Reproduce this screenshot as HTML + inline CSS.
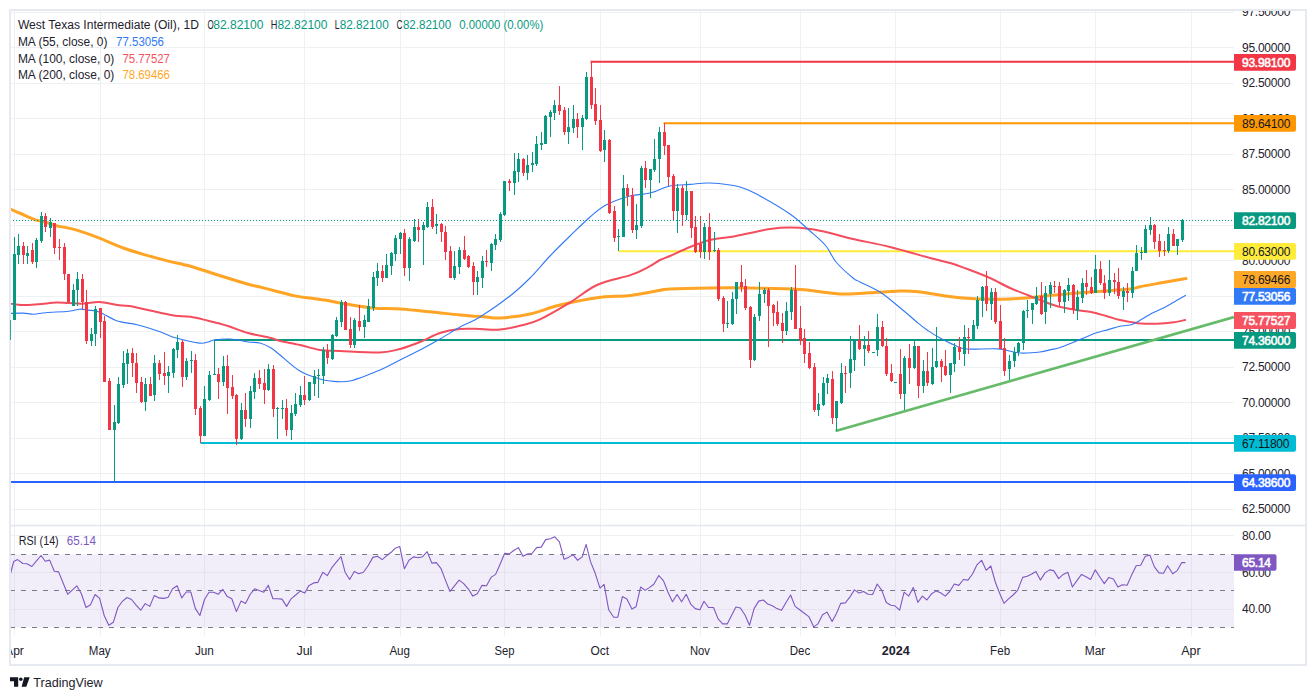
<!DOCTYPE html><html><head><meta charset="utf-8"><style>html,body{margin:0;padding:0;background:#fff;width:1316px;height:700px;overflow:hidden}svg{display:block}text{font-family:"Liberation Sans",sans-serif}</style></head><body>
<svg width="1316" height="700" viewBox="0 0 1316 700">
<defs><clipPath id="cm"><rect x="11" y="11" width="1223" height="514"/></clipPath><clipPath id="cr"><rect x="11" y="526" width="1223" height="110"/></clipPath></defs>
<rect width="1316" height="700" fill="#fff"/>
<path d="M11 12.5H1234 M11 47.5H1234 M11 83.5H1234 M11 118.5H1234 M11 154.5H1234 M11 189.5H1234 M11 225.5H1234 M11 260.5H1234 M11 296.5H1234 M11 331.5H1234 M11 367.5H1234 M11 402.5H1234 M11 438.5H1234 M11 473.5H1234 M11 509.5H1234 M11 535.5H1234 M11 572.5H1234 M11 609.5H1234 M14.5 11V636 M100.5 11V636 M204.5 11V636 M304.5 11V636 M400.5 11V636 M504.5 11V636 M600.5 11V636 M700.5 11V636 M800.5 11V636 M895.5 11V636 M1000.5 11V636 M1095.5 11V636 M1191.5 11V636" stroke="#EEF0F1" stroke-width="1" fill="none"/>
<rect x="11" y="554.5" width="1223" height="73" fill="#F2EEF9"/>
<path d="M11 572.5H1234M11 609.5H1234" stroke="#E6E2EF" stroke-width="1"/>
<path d="M14.5 554.5V627.5" stroke="#E6E2EF" stroke-width="1"/>
<path d="M100.5 554.5V627.5" stroke="#E6E2EF" stroke-width="1"/>
<path d="M204.5 554.5V627.5" stroke="#E6E2EF" stroke-width="1"/>
<path d="M304.5 554.5V627.5" stroke="#E6E2EF" stroke-width="1"/>
<path d="M400.5 554.5V627.5" stroke="#E6E2EF" stroke-width="1"/>
<path d="M504.5 554.5V627.5" stroke="#E6E2EF" stroke-width="1"/>
<path d="M600.5 554.5V627.5" stroke="#E6E2EF" stroke-width="1"/>
<path d="M700.5 554.5V627.5" stroke="#E6E2EF" stroke-width="1"/>
<path d="M800.5 554.5V627.5" stroke="#E6E2EF" stroke-width="1"/>
<path d="M895.5 554.5V627.5" stroke="#E6E2EF" stroke-width="1"/>
<path d="M1000.5 554.5V627.5" stroke="#E6E2EF" stroke-width="1"/>
<path d="M1095.5 554.5V627.5" stroke="#E6E2EF" stroke-width="1"/>
<path d="M1191.5 554.5V627.5" stroke="#E6E2EF" stroke-width="1"/>
<path d="M10 554.5H1234M10 590.5H1234M10 627.5H1234" stroke="#787B86" stroke-width="1" stroke-dasharray="5 6" fill="none"/>
<g clip-path="url(#cm)">
<path d="M590.5 61.7H1234" stroke="#F23645" stroke-width="2" fill="none"/>
<path d="M663.5 123.2H1234" stroke="#FF9800" stroke-width="2" fill="none"/>
<path d="M618.5 251.2H1234" stroke="#FFEB3B" stroke-width="2" fill="none"/>
<path d="M214.5 340.0H1234" stroke="#089981" stroke-width="2" fill="none"/>
<path d="M200.5 443.0H1234" stroke="#00BCD4" stroke-width="2" fill="none"/>
<path d="M10 482.1H1234" stroke="#2962FF" stroke-width="2" fill="none"/>
<path d="M835.6 431L1234 317" stroke="#66BB6A" stroke-width="2.7" fill="none"/>
<path d="M10.3 209.0C11.8 209.7 15.2 211.2 19.4 213.0C23.6 214.8 31.0 218.4 35.4 219.9C39.8 221.4 42.3 221.2 45.7 222.1C49.1 223.0 50.9 224.3 56.0 225.6C61.1 226.9 69.4 228.0 76.6 230.1C83.8 232.2 91.4 235.0 99.4 238.1C107.4 241.2 117.2 245.8 124.7 248.5C132.2 251.2 136.9 252.5 144.2 254.6C151.5 256.7 160.8 259.2 168.5 261.1C176.2 263.0 182.7 264.1 190.4 266.2C198.1 268.3 205.4 271.1 214.7 274.0C224.0 276.9 238.2 281.4 246.3 283.7C254.4 286.0 255.2 285.9 263.3 287.9C271.4 289.9 286.8 294.2 294.9 295.9C303.0 297.6 306.5 297.5 312.0 298.3C317.5 299.1 323.3 299.7 328.0 300.5C332.7 301.3 332.7 301.8 340.0 303.0C347.3 304.2 362.0 307.0 372.0 308.0C382.0 309.0 390.0 308.3 400.0 309.0C410.0 309.7 422.0 311.0 432.0 312.0C442.0 313.0 451.0 314.2 460.0 315.0C469.0 315.8 479.3 316.5 486.0 317.0C492.7 317.5 492.7 318.5 500.0 318.0C507.3 317.5 520.0 316.2 530.0 314.0C540.0 311.8 548.8 307.7 560.0 305.0C571.2 302.3 585.2 299.3 597.0 297.7C608.8 296.1 620.5 296.6 631.0 295.4C641.5 294.2 653.5 291.4 660.0 290.3C666.5 289.2 661.7 289.4 670.0 289.0C678.3 288.6 696.7 288.2 710.0 288.0C723.3 287.8 735.0 287.8 750.0 288.0C765.0 288.2 786.7 288.6 800.0 289.4C813.3 290.2 821.7 292.2 830.0 293.0C838.3 293.8 838.3 294.3 850.0 294.0C861.7 293.7 888.3 291.3 900.0 291.0C911.7 290.7 909.5 290.8 920.0 292.0C930.5 293.2 948.0 296.8 963.0 298.0C978.0 299.2 995.5 299.4 1010.0 299.0C1024.5 298.6 1036.7 296.8 1050.0 295.6C1063.3 294.4 1076.7 293.1 1090.0 292.0C1103.3 290.9 1121.7 289.9 1130.0 289.0C1138.3 288.1 1134.5 287.8 1140.0 286.7C1145.5 285.6 1155.3 283.9 1163.0 282.5C1170.7 281.1 1182.2 279.2 1186.0 278.6" stroke="#FFA424" stroke-width="3" fill="none" stroke-linejoin="round" stroke-linecap="round"/>
<path d="M10.3 303.6C12.5 303.9 18.5 305.0 23.2 305.1C27.9 305.2 32.8 304.7 38.4 304.3C44.0 303.9 51.5 302.7 56.6 302.5C61.7 302.3 64.2 302.9 68.8 303.1C73.4 303.3 78.9 303.8 84.0 303.6C89.1 303.4 93.6 301.8 99.2 302.0C104.8 302.2 112.3 304.4 117.4 305.1C122.5 305.8 122.5 304.8 129.6 306.1C136.7 307.4 152.4 311.1 160.0 312.7C167.6 314.3 170.1 315.0 175.2 315.7C180.3 316.4 184.9 316.0 190.4 316.8C195.9 317.6 201.7 319.2 208.0 320.7C214.3 322.2 221.3 323.9 228.0 326.0C234.7 328.1 240.8 331.0 248.0 333.0C255.2 335.0 265.7 336.7 271.0 338.0C276.3 339.3 275.2 339.8 280.0 341.0C284.8 342.2 293.3 343.5 300.0 345.0C306.7 346.5 313.3 349.0 320.0 350.0C326.7 351.0 330.0 350.6 340.0 351.0C350.0 351.4 370.0 352.7 380.0 352.4C390.0 352.1 393.3 350.7 400.0 349.0C406.7 347.3 413.3 344.7 420.0 342.0C426.7 339.3 433.3 335.2 440.0 333.0C446.7 330.8 453.3 329.7 460.0 329.0C466.7 328.3 473.3 328.9 480.0 329.0C486.7 329.1 492.8 330.3 500.0 329.6C507.2 328.9 516.3 326.7 523.0 325.0C529.7 323.3 532.4 323.0 540.0 319.4C547.6 315.8 559.1 309.1 568.6 303.4C578.1 297.7 586.6 289.8 597.0 285.0C607.4 280.2 622.4 277.9 631.0 274.9C639.6 271.9 643.8 269.4 648.6 266.9C653.4 264.4 656.4 261.8 660.0 260.0C663.6 258.2 665.0 258.2 670.0 256.0C675.0 253.8 683.3 249.7 690.0 247.0C696.7 244.3 703.3 241.7 710.0 240.0C716.7 238.3 723.3 238.2 730.0 237.0C736.7 235.8 743.3 234.3 750.0 233.0C756.7 231.7 763.3 229.9 770.0 229.0C776.7 228.1 783.3 227.6 790.0 227.6C796.7 227.6 803.3 228.1 810.0 229.0C816.7 229.9 822.8 231.3 830.0 233.0C837.2 234.7 843.0 236.7 853.0 239.0C863.0 241.3 877.2 243.8 890.0 247.0C902.8 250.2 920.0 255.3 930.0 258.0C940.0 260.7 943.3 261.0 950.0 263.0C956.7 265.0 963.3 267.5 970.0 270.0C976.7 272.5 983.3 275.0 990.0 278.0C996.7 281.0 1003.3 285.0 1010.0 288.0C1016.7 291.0 1023.8 293.5 1030.0 296.0C1036.2 298.5 1042.6 301.1 1047.3 302.8C1052.0 304.6 1053.3 305.3 1058.2 306.5C1063.1 307.7 1071.0 309.2 1076.5 310.1C1082.0 311.0 1086.0 310.9 1091.1 311.9C1096.2 312.9 1102.2 314.9 1106.9 316.2C1111.6 317.5 1114.8 318.8 1119.0 319.8C1123.2 320.8 1128.8 321.7 1132.4 322.3C1136.1 322.9 1136.0 323.3 1140.9 323.5C1145.8 323.7 1156.1 323.7 1161.6 323.5C1167.1 323.3 1169.7 322.9 1173.7 322.3C1177.8 321.7 1183.9 320.2 1185.9 319.8" stroke="#F44D5D" stroke-width="2" fill="none" stroke-linejoin="round"/>
<path d="M10.3 313.4C12.5 313.3 19.3 313.0 23.2 313.1C27.1 313.2 30.0 314.3 33.8 314.2C37.6 314.1 40.2 313.2 46.0 312.7C51.8 312.2 63.2 311.8 68.8 311.2C74.4 310.6 76.1 309.4 79.4 309.2C82.7 309.0 85.2 309.7 88.5 310.1C91.8 310.6 94.4 310.1 99.2 311.9C104.0 313.7 111.1 318.9 117.4 321.0C123.7 323.1 130.1 323.0 137.2 324.8C144.3 326.6 153.7 329.5 160.0 331.7C166.3 333.9 168.6 335.9 175.2 337.8C181.8 339.7 194.0 342.4 199.5 343.1C205.0 343.8 205.6 342.5 208.0 342.0C210.4 341.5 210.3 340.5 214.0 340.0C217.7 339.5 224.3 338.7 230.0 339.0C235.7 339.3 243.0 341.3 248.0 342.0C253.0 342.7 256.2 342.0 260.0 343.0C263.8 344.0 267.7 346.0 271.0 348.0C274.3 350.0 275.2 351.2 280.0 355.0C284.8 358.8 293.3 367.0 300.0 371.0C306.7 375.0 315.0 377.3 320.0 379.0C325.0 380.7 325.0 380.7 330.0 381.0C335.0 381.3 341.7 382.8 350.0 381.0C358.3 379.2 371.7 373.5 380.0 370.0C388.3 366.5 393.3 363.3 400.0 360.0C406.7 356.7 413.3 353.5 420.0 350.0C426.7 346.5 433.3 342.8 440.0 339.0C446.7 335.2 453.3 330.7 460.0 327.0C466.7 323.3 471.7 322.2 480.0 317.0C488.3 311.8 501.7 302.5 510.0 296.0C518.3 289.5 523.3 284.7 530.0 278.0C536.7 271.3 543.3 263.0 550.0 256.0C556.7 249.0 563.3 242.5 570.0 236.0C576.7 229.5 584.0 222.2 590.0 217.0C596.0 211.8 599.3 208.5 606.0 205.0C612.7 201.5 622.7 198.0 630.0 196.0C637.3 194.0 643.3 194.7 650.0 193.0C656.7 191.3 663.3 187.4 670.0 186.0C676.7 184.6 683.3 184.9 690.0 184.4C696.7 183.9 701.7 182.6 710.0 183.0C718.3 183.4 731.7 184.8 740.0 187.0C748.3 189.2 751.7 191.5 760.0 196.0C768.3 200.5 781.7 208.2 790.0 214.0C798.3 219.8 804.0 225.7 810.0 231.0C816.0 236.3 821.7 240.8 826.0 246.0C830.3 251.2 831.5 256.7 836.0 262.0C840.5 267.3 849.0 274.7 853.0 278.0C857.0 281.3 855.5 279.7 860.0 282.0C864.5 284.3 873.2 287.6 880.0 292.0C886.8 296.4 894.6 303.3 901.0 308.5C907.4 313.7 913.9 319.7 918.4 323.4C922.9 327.1 924.9 328.5 928.1 330.7C931.3 332.9 933.3 334.3 937.8 336.7C942.2 339.1 949.9 343.2 954.8 345.3C959.7 347.4 959.7 348.4 967.0 349.0C974.3 349.6 989.8 348.2 998.6 348.9C1007.4 349.6 1013.1 352.5 1020.0 353.0C1026.9 353.5 1034.8 352.6 1040.0 352.0C1045.2 351.4 1047.7 350.3 1050.9 349.6C1054.2 348.9 1055.2 349.2 1059.5 347.8C1063.8 346.4 1072.0 342.9 1076.5 341.1C1081.0 339.3 1082.8 338.3 1086.2 336.9C1089.6 335.5 1093.4 333.8 1097.1 332.6C1100.8 331.4 1104.4 330.6 1108.1 329.6C1111.8 328.6 1115.2 327.3 1119.0 326.5C1122.8 325.7 1127.5 325.8 1131.2 324.7C1134.9 323.6 1137.5 321.7 1140.9 319.8C1144.4 317.9 1148.1 315.2 1151.9 313.2C1155.8 311.2 1160.4 309.5 1164.0 307.7C1167.6 305.9 1170.0 304.3 1173.7 302.2C1177.4 300.1 1183.9 296.4 1185.9 295.3" stroke="#3179F5" stroke-width="1.1" fill="none" stroke-linejoin="round"/>
<path d="M9 320h1v20h-1zM8 322h3v13h-3zM14 237h1v83h-1zM13 254h3v66h-3zM18 234h1v30h-1zM17 246h3v9h-3zM27 246h1v18h-1zM26 253h3v3h-3zM36 238h1v30h-1zM35 240h3v22h-3zM41 212h1v31h-1zM40 216h3v25h-3zM50 218h1v19h-1zM49 222h3v6h-3zM73 284h1v22h-1zM72 290h3v16h-3zM77 272h1v34h-1zM76 279h3v11h-3zM91 328h1v18h-1zM90 334h3v7h-3zM95 306h1v40h-1zM94 309h3v25h-3zM114 405h1v77h-1zM113 422h3v8h-3zM118 377h1v47h-1zM117 384h3v39h-3zM123 351h1v37h-1zM122 363h3v22h-3zM127 349h1v35h-1zM126 353h3v11h-3zM145 378h1v33h-1zM144 384h3v18h-3zM154 355h1v46h-1zM153 363h3v32h-3zM168 366h1v27h-1zM167 372h3v4h-3zM173 348h1v30h-1zM172 349h3v24h-3zM177 335h1v23h-1zM176 342h3v8h-3zM186 358h1v22h-1zM185 361h3v16h-3zM191 351h1v22h-1zM190 360h3v1h-3zM204 386h1v50h-1zM203 399h3v37h-3zM209 371h1v30h-1zM208 375h3v25h-3zM214 340h1v35h-1zM213 374h3v1h-3zM223 356h1v30h-1zM222 366h3v16h-3zM241 403h1v37h-1zM240 410h3v29h-3zM250 386h1v42h-1zM249 391h3v28h-3zM254 373h1v26h-1zM253 378h3v14h-3zM268 364h1v27h-1zM267 369h3v21h-3zM277 407h1v32h-1zM276 408h3v1h-3zM282 400h1v19h-1zM281 408h3v1h-3zM291 405h1v35h-1zM290 413h3v17h-3zM295 393h1v23h-1zM294 404h3v10h-3zM300 386h1v21h-1zM299 395h3v10h-3zM309 382h1v19h-1zM308 382h3v18h-3zM314 370h1v26h-1zM313 376h3v8h-3zM318 369h1v29h-1zM317 375h3v1h-3zM323 347h1v37h-1zM322 350h3v26h-3zM332 334h1v26h-1zM331 335h3v24h-3zM336 317h1v20h-1zM335 320h3v16h-3zM341 300h1v27h-1zM340 302h3v20h-3zM354 318h1v30h-1zM353 320h3v25h-3zM364 315h1v23h-1zM363 320h3v7h-3zM368 299h1v23h-1zM367 306h3v16h-3zM373 272h1v39h-1zM372 277h3v31h-3zM377 263h1v23h-1zM376 271h3v7h-3zM386 254h1v24h-1zM385 265h3v13h-3zM391 252h1v23h-1zM390 253h3v13h-3zM395 235h1v26h-1zM394 238h3v16h-3zM400 232h1v22h-1zM399 233h3v6h-3zM409 237h1v44h-1zM408 239h3v29h-3zM414 219h1v23h-1zM413 227h3v14h-3zM423 222h1v43h-1zM422 225h3v5h-3zM427 202h1v26h-1zM426 207h3v20h-3zM436 214h1v20h-1zM435 224h3v2h-3zM454 251h1v29h-1zM453 266h3v12h-3zM459 247h1v27h-1zM458 250h3v17h-3zM477 271h1v24h-1zM476 277h3v5h-3zM482 256h1v32h-1zM481 261h3v17h-3zM491 243h1v28h-1zM490 244h3v19h-3zM495 234h1v16h-1zM494 239h3v6h-3zM500 212h1v30h-1zM499 214h3v26h-3zM504 181h1v35h-1zM503 181h3v34h-3zM514 153h1v42h-1zM513 171h3v12h-3zM518 153h1v29h-1zM517 159h3v13h-3zM527 155h1v25h-1zM526 165h3v8h-3zM532 152h1v20h-1zM531 163h3v2h-3zM536 136h1v30h-1zM535 144h3v20h-3zM541 132h1v18h-1zM540 143h3v2h-3zM545 115h1v29h-1zM544 116h3v28h-3zM550 110h1v27h-1zM549 112h3v5h-3zM554 100h1v20h-1zM553 105h3v8h-3zM568 108h1v36h-1zM567 127h3v5h-3zM573 105h1v28h-1zM572 119h3v9h-3zM582 115h1v35h-1zM581 118h3v9h-3zM586 72h1v48h-1zM585 77h3v42h-3zM604 130h1v32h-1zM603 140h3v10h-3zM618 229h1v22h-1zM617 236h3v1h-3zM623 175h1v62h-1zM622 188h3v49h-3zM636 204h1v35h-1zM635 225h3v5h-3zM641 166h1v62h-1zM640 168h3v58h-3zM650 169h1v29h-1zM649 169h3v11h-3zM654 139h1v33h-1zM653 159h3v11h-3zM659 127h1v56h-1zM658 132h3v27h-3zM677 184h1v49h-1zM676 188h3v23h-3zM686 181h1v39h-1zM685 191h3v24h-3zM704 223h1v36h-1zM703 227h3v25h-3zM714 232h1v20h-1zM713 250h3v1h-3zM727 301h1v27h-1zM726 323h3v1h-3zM732 292h1v33h-1zM731 299h3v25h-3zM736 282h1v32h-1zM735 282h3v17h-3zM754 314h1v47h-1zM753 317h3v43h-3zM759 282h1v39h-1zM758 294h3v22h-3zM764 288h1v15h-1zM763 290h3v4h-3zM786 302h1v33h-1zM785 311h3v20h-3zM791 287h1v33h-1zM790 290h3v22h-3zM818 393h1v23h-1zM817 404h3v6h-3zM823 377h1v29h-1zM822 383h3v22h-3zM827 374h1v20h-1zM826 378h3v5h-3zM836 401h1v30h-1zM835 401h3v17h-3zM841 363h1v41h-1zM840 373h3v30h-3zM850 336h1v52h-1zM849 359h3v14h-3zM854 339h1v32h-1zM853 340h3v20h-3zM864 336h1v30h-1zM863 345h3v4h-3zM873 352h1v1h-1zM872 352h3v1h-3zM877 314h1v42h-1zM876 327h3v23h-3zM895 382h1v1h-1zM894 382h3v1h-3zM904 356h1v54h-1zM903 358h3v36h-3zM914 341h1v28h-1zM913 346h3v22h-3zM923 360h1v33h-1zM922 371h3v15h-3zM932 348h1v37h-1zM931 367h3v17h-3zM936 327h1v41h-1zM935 361h3v6h-3zM950 363h1v30h-1zM949 363h3v12h-3zM954 343h1v29h-1zM953 347h3v17h-3zM964 325h1v41h-1zM963 337h3v17h-3zM973 320h1v21h-1zM972 325h3v15h-3zM977 296h1v33h-1zM976 300h3v26h-3zM982 286h1v31h-1zM981 287h3v14h-3zM991 288h1v32h-1zM990 292h3v12h-3zM1009 355h1v25h-1zM1008 361h3v8h-3zM1014 347h1v20h-1zM1013 352h3v9h-3zM1018 342h1v14h-1zM1017 343h3v9h-3zM1023 310h1v40h-1zM1022 311h3v32h-3zM1027 300h1v18h-1zM1026 310h3v1h-3zM1032 303h1v21h-1zM1031 303h3v7h-3zM1036 287h1v18h-1zM1035 296h3v8h-3zM1045 286h1v38h-1zM1044 293h3v19h-3zM1050 282h1v26h-1zM1049 285h3v9h-3zM1064 289h1v24h-1zM1063 290h3v12h-3zM1068 278h1v23h-1zM1067 285h3v6h-3zM1077 290h1v30h-1zM1076 297h3v14h-3zM1082 278h1v25h-1zM1081 283h3v15h-3zM1095 255h1v38h-1zM1094 269h3v24h-3zM1109 260h1v36h-1zM1108 280h3v13h-3zM1123 287h1v23h-1zM1122 291h3v6h-3zM1132 267h1v31h-1zM1131 271h3v22h-3zM1136 245h1v26h-1zM1135 253h3v18h-3zM1141 247h1v13h-1zM1140 252h3v1h-3zM1145 225h1v28h-1zM1144 229h3v24h-3zM1150 217h1v18h-1zM1149 225h3v5h-3zM1168 227h1v26h-1zM1167 234h3v17h-3zM1177 239h1v16h-1zM1176 239h3v7h-3zM1182 219h1v23h-1zM1181 220h3v20h-3z" fill="#089981"/>
<path d="M23 242h1v22h-1zM22 246h3v9h-3zM32 243h1v21h-1zM31 250h3v12h-3zM45 213h1v19h-1zM44 216h3v11h-3zM54 223h1v31h-1zM53 223h3v25h-3zM59 239h1v21h-1zM58 247h3v1h-3zM64 243h1v37h-1zM63 247h3v27h-3zM68 274h1v28h-1zM67 274h3v28h-3zM82 274h1v35h-1zM81 279h3v23h-3zM86 290h1v54h-1zM85 302h3v39h-3zM100 308h1v30h-1zM99 308h3v14h-3zM104 316h1v66h-1zM103 321h3v61h-3zM109 378h1v52h-1zM108 381h3v49h-3zM132 348h1v29h-1zM131 353h3v10h-3zM136 353h1v40h-1zM135 363h3v20h-3zM141 377h1v26h-1zM140 382h3v20h-3zM150 377h1v19h-1zM149 384h3v12h-3zM159 360h1v20h-1zM158 363h3v11h-3zM164 352h1v33h-1zM163 373h3v3h-3zM182 340h1v47h-1zM181 342h3v35h-3zM195 354h1v61h-1zM194 360h3v49h-3zM200 406h1v37h-1zM199 408h3v28h-3zM218 368h1v31h-1zM217 374h3v8h-3zM227 355h1v59h-1zM226 366h3v22h-3zM232 375h1v24h-1zM231 387h3v9h-3zM236 394h1v51h-1zM235 395h3v44h-3zM245 393h1v34h-1zM244 410h3v9h-3zM259 370h1v19h-1zM258 378h3v6h-3zM264 369h1v35h-1zM263 383h3v7h-3zM273 365h1v52h-1zM272 369h3v40h-3zM286 399h1v37h-1zM285 408h3v22h-3zM304 376h1v29h-1zM303 395h3v5h-3zM327 344h1v20h-1zM326 351h3v7h-3zM345 301h1v29h-1zM344 302h3v28h-3zM350 317h1v31h-1zM349 329h3v16h-3zM359 305h1v26h-1zM358 321h3v6h-3zM382 265h1v17h-1zM381 271h3v7h-3zM404 229h1v47h-1zM403 233h3v35h-3zM418 219h1v23h-1zM417 227h3v3h-3zM432 199h1v30h-1zM431 207h3v20h-3zM441 223h1v19h-1zM440 224h3v8h-3zM445 226h1v34h-1zM444 232h3v20h-3zM450 246h1v32h-1zM449 251h3v27h-3zM464 236h1v24h-1zM463 250h3v9h-3zM468 255h1v13h-1zM467 256h3v11h-3zM473 262h1v33h-1zM472 266h3v16h-3zM486 250h1v17h-1zM485 261h3v1h-3zM509 179h1v12h-1zM508 181h3v2h-3zM523 158h1v18h-1zM522 159h3v14h-3zM559 86h1v29h-1zM558 105h3v6h-3zM564 107h1v28h-1zM563 110h3v22h-3zM577 113h1v25h-1zM576 119h3v8h-3zM591 62h1v47h-1zM590 77h3v28h-3zM595 88h1v37h-1zM594 104h3v17h-3zM600 105h1v47h-1zM599 120h3v31h-3zM609 139h1v75h-1zM608 140h3v73h-3zM614 206h1v36h-1zM613 211h3v27h-3zM627 184h1v22h-1zM626 188h3v8h-3zM632 188h1v45h-1zM631 195h3v35h-3zM645 161h1v27h-1zM644 168h3v12h-3zM664 123h1v32h-1zM663 132h3v14h-3zM668 145h1v41h-1zM667 145h3v32h-3zM673 174h1v46h-1zM672 176h3v35h-3zM682 185h1v41h-1zM681 188h3v27h-3zM691 191h1v47h-1zM690 191h3v37h-3zM695 216h1v37h-1zM694 227h3v25h-3zM700 216h1v42h-1zM699 244h3v8h-3zM709 213h1v47h-1zM708 227h3v25h-3zM718 248h1v53h-1zM717 250h3v49h-3zM723 296h1v36h-1zM722 298h3v26h-3zM741 265h1v27h-1zM740 282h3v5h-3zM745 279h1v31h-1zM744 286h3v22h-3zM750 306h1v62h-1zM749 307h3v53h-3zM768 288h1v59h-1zM767 290h3v16h-3zM773 304h1v22h-1zM772 305h3v8h-3zM777 301h1v25h-1zM776 312h3v12h-3zM782 313h1v30h-1zM781 323h3v8h-3zM795 265h1v64h-1zM794 290h3v39h-3zM800 306h1v39h-1zM799 328h3v13h-3zM804 329h1v34h-1zM803 338h3v16h-3zM809 342h1v27h-1zM808 353h3v15h-3zM814 363h1v49h-1zM813 367h3v43h-3zM832 371h1v53h-1zM831 379h3v39h-3zM845 366h1v27h-1zM844 373h3v1h-3zM859 325h1v25h-1zM858 340h3v9h-3zM868 331h1v22h-1zM867 345h3v6h-3zM882 321h1v26h-1zM881 327h3v19h-3zM886 338h1v38h-1zM885 346h3v28h-3zM891 364h1v18h-1zM890 373h3v8h-3zM900 349h1v50h-1zM899 374h3v20h-3zM909 344h1v40h-1zM908 358h3v10h-3zM918 346h1v52h-1zM917 346h3v40h-3zM927 352h1v34h-1zM926 371h3v12h-3zM941 359h1v23h-1zM940 361h3v6h-3zM945 350h1v26h-1zM944 366h3v9h-3zM959 337h1v23h-1zM958 347h3v5h-3zM968 328h1v26h-1zM967 337h3v1h-3zM986 271h1v40h-1zM985 286h3v18h-3zM995 288h1v36h-1zM994 292h3v30h-3zM1000 305h1v44h-1zM999 321h3v28h-3zM1004 338h1v38h-1zM1003 348h3v23h-3zM1041 282h1v33h-1zM1040 296h3v18h-3zM1054 281h1v12h-1zM1053 286h3v1h-3zM1059 282h1v24h-1zM1058 286h3v16h-3zM1073 284h1v30h-1zM1072 285h3v25h-3zM1086 270h1v25h-1zM1085 283h3v4h-3zM1091 277h1v17h-1zM1090 287h3v6h-3zM1100 261h1v24h-1zM1099 269h3v14h-3zM1104 275h1v24h-1zM1103 283h3v10h-3zM1114 273h1v21h-1zM1113 280h3v2h-3zM1118 268h1v31h-1zM1117 282h3v14h-3zM1127 283h1v19h-1zM1126 291h3v2h-3zM1154 224h1v25h-1zM1153 225h3v17h-3zM1159 234h1v23h-1zM1158 241h3v10h-3zM1164 241h1v15h-1zM1163 250h3v1h-3zM1173 229h1v17h-1zM1172 234h3v12h-3z" fill="#F23645"/>
<path d="M10 220.5H1234" stroke="#089981" stroke-width="1" stroke-dasharray="1 2" fill="none"/>
</g>
<g clip-path="url(#cr)">
<polyline points="10.3,574.4 13.7,561.5 17.6,559.6 22.8,563.5 26.9,563.7 31.9,566.5 36.5,560.8 41.1,555.5 45.2,561.2 49.7,560.1 54.3,571.3 58.6,571.9 67.7,594.3 76.8,585.8 81.4,593.8 86.0,607.5 90.5,604.8 95.1,594.5 99.6,598.4 104.2,615.5 108.8,625.3 113.3,622.3 117.9,607.5 122.4,601.3 127.0,597.5 131.5,599.5 136.1,605.2 140.7,610.2 145.2,603.6 149.8,606.4 154.3,595.4 158.9,597.9 163.5,598.4 168.0,597.5 172.6,588.8 177.1,585.8 181.7,597.9 186.3,592.0 190.8,592.0 195.4,608.6 199.9,615.5 204.5,599.5 209.0,592.2 213.6,592.2 218.2,594.3 222.7,589.3 227.3,596.6 231.8,598.8 236.4,611.6 241.0,601.1 245.5,603.4 250.1,594.5 254.6,588.8 259.2,590.4 263.8,592.2 268.3,585.2 272.9,598.8 277.4,598.8 282.0,599.1 286.6,606.4 291.1,598.8 295.7,595.0 300.2,591.1 304.8,593.1 308.7,585.8 313.7,582.9 317.8,582.4 322.8,572.2 327.4,575.6 331.9,567.6 336.5,561.9 341.0,556.7 345.1,572.2 349.7,579.5 354.3,571.5 358.8,573.8 363.4,572.2 367.9,566.0 372.9,557.4 377.5,556.2 382.1,559.6 386.6,555.8 391.2,552.3 395.3,548.2 399.8,546.6 404.4,568.8 409.0,560.3 413.5,556.9 418.1,557.8 422.6,556.7 427.2,551.7 431.8,563.1 436.3,562.6 440.9,568.3 445.4,580.1 450.0,591.5 454.5,585.8 459.1,580.1 463.7,583.6 468.2,588.8 472.8,596.1 477.3,593.8 481.9,585.4 486.5,585.8 491.0,577.4 495.6,574.4 500.1,564.2 504.7,553.3 509.3,553.9 513.8,550.5 518.4,547.6 522.9,556.2 527.5,553.9 532.0,553.5 536.6,547.6 541.2,547.1 545.7,539.6 550.3,538.7 554.8,536.8 559.4,541.9 564.0,559.2 568.5,557.4 573.1,554.6 577.6,560.3 582.2,556.9 586.1,544.4 590.6,561.9 595.2,573.3 600.0,588.1 604.1,584.3 608.7,609.8 613.7,617.3 617.8,617.1 622.4,596.6 626.9,599.1 631.9,609.1 636.0,606.8 640.6,587.0 645.1,590.4 649.7,587.4 653.8,584.3 658.8,575.6 663.4,580.6 667.9,592.0 672.5,601.8 677.1,594.5 681.6,601.8 686.2,594.3 690.7,604.1 695.3,608.6 699.9,609.8 704.0,601.3 708.5,607.5 713.5,607.5 718.1,618.9 722.6,623.9 727.2,623.9 731.8,615.0 735.9,607.0 740.4,608.0 745.0,615.0 749.5,625.3 754.1,608.6 758.7,601.1 763.2,600.0 767.8,604.1 772.3,605.7 776.9,608.6 781.5,610.2 786.0,602.5 790.6,595.0 795.1,606.4 799.7,609.8 804.3,613.2 808.8,616.6 813.8,626.9 817.9,623.9 822.5,614.8 827.0,612.1 832.1,621.6 836.6,613.2 840.7,603.4 845.3,602.9 849.8,597.2 854.4,589.9 859.0,593.1 863.5,591.5 868.1,594.3 872.6,594.5 877.2,584.0 881.8,590.4 886.3,602.5 890.9,605.2 894.6,605.7 899.6,610.2 904.1,592.2 908.7,596.1 913.3,587.4 917.8,602.3 922.4,596.1 926.9,600.0 931.5,593.8 936.0,591.1 940.6,592.7 945.2,596.1 949.7,591.5 954.3,584.0 958.8,585.4 963.4,579.5 968.0,580.1 972.5,574.0 977.1,564.6 981.6,560.3 986.2,570.3 990.8,566.0 995.3,582.0 999.4,592.7 1004.0,603.4 1008.5,598.8 1013.1,595.0 1017.6,590.4 1022.7,577.4 1027.2,576.3 1031.8,574.0 1035.9,571.5 1040.4,580.1 1045.0,572.9 1049.6,569.9 1053.7,570.6 1058.7,578.6 1063.2,574.4 1067.8,572.2 1072.4,587.0 1076.9,580.6 1081.5,574.4 1086.0,576.7 1090.6,579.5 1095.2,569.9 1099.7,576.7 1104.3,583.6 1108.8,577.4 1113.4,579.0 1117.9,587.0 1122.5,584.7 1127.1,585.2 1131.6,575.1 1136.2,565.8 1140.7,565.3 1145.3,556.2 1149.9,555.1 1154.4,566.9 1159.0,572.9 1163.5,573.3 1167.6,565.8 1172.7,573.8 1177.2,570.6 1181.8,562.6 1185.4,562.6" stroke="#7E57C2" stroke-width="1.1" fill="none" stroke-linejoin="round"/>
</g>
<rect x="10" y="10" width="1296" height="655" fill="none" stroke="#E6E9F0" stroke-width="2"/>
<rect x="10" y="320" width="1" height="20" fill="#089981" opacity="0.8"/>
<path d="M11 525.5H1305" stroke="#E3E6EE" stroke-width="1.3"/>
<defs><clipPath id="cp"><rect x="1234" y="11" width="71" height="514"/></clipPath></defs><g clip-path="url(#cp)">
<text x="1242" y="16.3" font-size="12" fill="#1E222D" letter-spacing="-0.25">97.50000</text>
<text x="1242" y="51.8" font-size="12" fill="#1E222D" letter-spacing="-0.25">95.00000</text>
<text x="1242" y="87.3" font-size="12" fill="#1E222D" letter-spacing="-0.25">92.50000</text>
<text x="1242" y="122.8" font-size="12" fill="#1E222D" letter-spacing="-0.25">90.00000</text>
<text x="1242" y="158.3" font-size="12" fill="#1E222D" letter-spacing="-0.25">87.50000</text>
<text x="1242" y="193.8" font-size="12" fill="#1E222D" letter-spacing="-0.25">85.00000</text>
<text x="1242" y="229.3" font-size="12" fill="#1E222D" letter-spacing="-0.25">82.50000</text>
<text x="1242" y="264.8" font-size="12" fill="#1E222D" letter-spacing="-0.25">80.00000</text>
<text x="1242" y="300.3" font-size="12" fill="#1E222D" letter-spacing="-0.25">77.50000</text>
<text x="1242" y="335.8" font-size="12" fill="#1E222D" letter-spacing="-0.25">75.00000</text>
<text x="1242" y="371.3" font-size="12" fill="#1E222D" letter-spacing="-0.25">72.50000</text>
<text x="1242" y="406.8" font-size="12" fill="#1E222D" letter-spacing="-0.25">70.00000</text>
<text x="1242" y="442.3" font-size="12" fill="#1E222D" letter-spacing="-0.25">67.50000</text>
<text x="1242" y="477.8" font-size="12" fill="#1E222D" letter-spacing="-0.25">65.00000</text>
<text x="1242" y="513.3" font-size="12" fill="#1E222D" letter-spacing="-0.25">62.50000</text>
</g>
<text x="1242" y="540.1" font-size="12" fill="#1E222D" letter-spacing="-0.25">80.00</text>
<text x="1242" y="576.8" font-size="12" fill="#1E222D" letter-spacing="-0.25">60.00</text>
<text x="1242" y="613.1" font-size="12" fill="#1E222D" letter-spacing="-0.25">40.00</text>
<path d="M1234 54.0h60a2 2 0 0 1 2 2v12.8a2 2 0 0 1 -2 2h-60z" fill="#F23645"/>
<text x="1242" y="66.8" font-size="12" fill="#fff" letter-spacing="-0.25" stroke="#fff" stroke-width="0.55">93.98100</text>
<path d="M1234 115.0h60a2 2 0 0 1 2 2v12.8a2 2 0 0 1 -2 2h-60z" fill="#FF9800"/>
<text x="1242" y="127.9" font-size="12" fill="#131722" letter-spacing="-0.25">89.64100</text>
<path d="M1234 212.2h60a2 2 0 0 1 2 2v12.8a2 2 0 0 1 -2 2h-60z" fill="#089981"/>
<text x="1242" y="225.1" font-size="12" fill="#fff" letter-spacing="-0.25" stroke="#fff" stroke-width="0.55">82.82100</text>
<path d="M1234 243.0h60a2 2 0 0 1 2 2v12.8a2 2 0 0 1 -2 2h-60z" fill="#FFEB3B"/>
<text x="1242" y="255.9" font-size="12" fill="#131722" letter-spacing="-0.25">80.63000</text>
<path d="M1234 271.1h60a2 2 0 0 1 2 2v12.8a2 2 0 0 1 -2 2h-60z" fill="#FFA726"/>
<text x="1242" y="284.0" font-size="12" fill="#131722" letter-spacing="-0.25">78.69466</text>
<path d="M1234 287.9h60a2 2 0 0 1 2 2v12.8a2 2 0 0 1 -2 2h-60z" fill="#3179F5"/>
<text x="1242" y="300.8" font-size="12" fill="#fff" letter-spacing="-0.25" stroke="#fff" stroke-width="0.55">77.53056</text>
<path d="M1234 312.1h60a2 2 0 0 1 2 2v12.8a2 2 0 0 1 -2 2h-60z" fill="#F7525F"/>
<text x="1242" y="325.0" font-size="12" fill="#fff" letter-spacing="-0.25" stroke="#fff" stroke-width="0.55">75.77527</text>
<path d="M1234 331.9h60a2 2 0 0 1 2 2v12.8a2 2 0 0 1 -2 2h-60z" fill="#089981"/>
<text x="1242" y="344.8" font-size="12" fill="#fff" letter-spacing="-0.25" stroke="#fff" stroke-width="0.55">74.36000</text>
<path d="M1234 434.9h60a2 2 0 0 1 2 2v12.8a2 2 0 0 1 -2 2h-60z" fill="#00BCD4"/>
<text x="1242" y="447.8" font-size="12" fill="#131722" letter-spacing="-0.25">67.11800</text>
<path d="M1234 474.2h60a2 2 0 0 1 2 2v12.8a2 2 0 0 1 -2 2h-60z" fill="#2962FF"/>
<text x="1242" y="487.1" font-size="12" fill="#fff" letter-spacing="-0.25" stroke="#fff" stroke-width="0.55">64.38600</text>
<path d="M1234 554.3h40.5a2 2 0 0 1 2 2v12.4a2 2 0 0 1 -2 2h-40.5z" fill="#7E57C2"/>
<text x="1242" y="566.8" font-size="12" fill="#fff" stroke="#fff" stroke-width="0.55" letter-spacing="-0.25">65.14</text>
<defs><clipPath id="ct"><rect x="11" y="636" width="1294" height="28"/></clipPath></defs><g clip-path="url(#ct)">
<text x="5.1" y="655" font-size="12" fill="#1E222D" textLength="18.8" lengthAdjust="spacingAndGlyphs">Apr</text>
<text x="88.8" y="655" font-size="12" fill="#1E222D" textLength="21.8" lengthAdjust="spacingAndGlyphs">May</text>
<text x="194.9" y="655" font-size="12" fill="#1E222D" textLength="19" lengthAdjust="spacingAndGlyphs">Jun</text>
<text x="296.4" y="655" font-size="12" fill="#1E222D" textLength="16" lengthAdjust="spacingAndGlyphs">Jul</text>
<text x="389.4" y="655" font-size="12" fill="#1E222D" textLength="20.6" lengthAdjust="spacingAndGlyphs">Aug</text>
<text x="494.6" y="655" font-size="12" fill="#1E222D" textLength="20" lengthAdjust="spacingAndGlyphs">Sep</text>
<text x="590.5" y="655" font-size="12" fill="#1E222D" textLength="18.6" lengthAdjust="spacingAndGlyphs">Oct</text>
<text x="689.9" y="655" font-size="12" fill="#1E222D" textLength="20" lengthAdjust="spacingAndGlyphs">Nov</text>
<text x="789.7" y="655" font-size="12" fill="#1E222D" textLength="20.6" lengthAdjust="spacingAndGlyphs">Dec</text>
<text x="881.7" y="655" font-size="12" fill="#1E222D" textLength="28" lengthAdjust="spacingAndGlyphs" font-weight="bold">2024</text>
<text x="990.1" y="655" font-size="12" fill="#1E222D" textLength="20" lengthAdjust="spacingAndGlyphs">Feb</text>
<text x="1084.7" y="655" font-size="12" fill="#1E222D" textLength="20.6" lengthAdjust="spacingAndGlyphs">Mar</text>
<text x="1181.3" y="655" font-size="12" fill="#1E222D" textLength="19.4" lengthAdjust="spacingAndGlyphs">Apr</text>
</g>
<text x="17.9" y="28.8" font-size="12" fill="#1E222D" textLength="181" lengthAdjust="spacingAndGlyphs">West Texas Intermediate (Oil), 1D</text>
<text x="207.4" y="28.8" font-size="12" fill="#1E222D" textLength="6.2" lengthAdjust="spacingAndGlyphs">O</text><text x="213.2" y="28.8" font-size="12" fill="#089981" textLength="50.3" lengthAdjust="spacingAndGlyphs">82.82100</text>
<text x="270.7" y="28.8" font-size="12" fill="#1E222D" textLength="6.6" lengthAdjust="spacingAndGlyphs">H</text><text x="277.4" y="28.8" font-size="12" fill="#089981" textLength="50.1" lengthAdjust="spacingAndGlyphs">82.82100</text>
<text x="334.8" y="28.8" font-size="12" fill="#1E222D" textLength="4.8" lengthAdjust="spacingAndGlyphs">L</text><text x="339.7" y="28.8" font-size="12" fill="#089981" textLength="49" lengthAdjust="spacingAndGlyphs">82.82100</text>
<text x="396.6" y="28.8" font-size="12" fill="#1E222D" textLength="6" lengthAdjust="spacingAndGlyphs">C</text><text x="402.9" y="28.8" font-size="12" fill="#089981" textLength="48.3" lengthAdjust="spacingAndGlyphs">82.82100</text>
<text x="459.3" y="28.8" font-size="12" fill="#089981" textLength="84" lengthAdjust="spacingAndGlyphs">0.00000 (0.00%)</text>
<text x="17.9" y="45.7" font-size="12" fill="#1E222D" textLength="89.6" lengthAdjust="spacingAndGlyphs">MA (55, close, 0)</text><text x="116.1" y="45.7" font-size="12" fill="#3179F5" textLength="47.9" lengthAdjust="spacingAndGlyphs">77.53056</text>
<text x="17.9" y="62.5" font-size="12" fill="#1E222D" textLength="96.4" lengthAdjust="spacingAndGlyphs">MA (100, close, 0)</text><text x="122.5" y="62.5" font-size="12" fill="#F7525F" textLength="47.4" lengthAdjust="spacingAndGlyphs">75.77527</text>
<text x="17.9" y="79.3" font-size="12" fill="#1E222D" textLength="96.4" lengthAdjust="spacingAndGlyphs">MA (200, close, 0)</text><text x="122.5" y="79.3" font-size="12" fill="#FFA726" textLength="47.4" lengthAdjust="spacingAndGlyphs">78.69466</text>
<text x="18.7" y="544.9" font-size="12" fill="#1E222D" textLength="40" lengthAdjust="spacingAndGlyphs">RSI (14)</text><text x="66.7" y="544.9" font-size="12" fill="#7E57C2" textLength="29.2" lengthAdjust="spacingAndGlyphs">65.14</text>
<g fill="#131722"><path d="M10 677.2h8.2v9.6h-4.2v-5.6h-4z"/><circle cx="20.8" cy="679.2" r="1.75"/><path d="M24.2 677.2H29.7L26.3 686.8H21.6Z"/></g>
<text x="33.3" y="686.8" font-size="12.6" fill="#1E222D">TradingView</text>
</svg></body></html>
